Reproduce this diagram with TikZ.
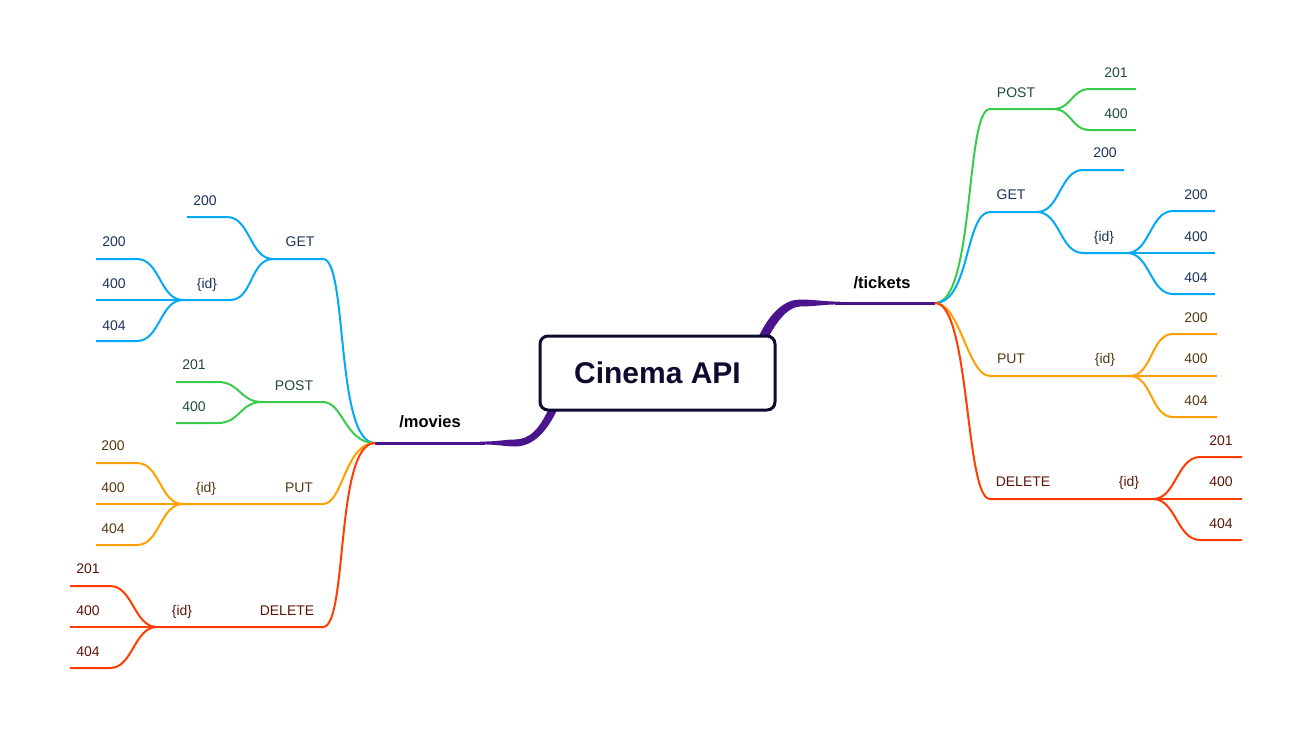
\documentclass[tikz,border=0pt]{standalone}
\usepackage{fontspec}
\setmainfont{Liberation Sans}
\definecolor{cBlue}{HTML}{03A9F4}
\definecolor{cGreen}{HTML}{39CB4C}
\definecolor{cOrange}{HTML}{FFA000}
\definecolor{cRed}{HTML}{FF3D00}
\definecolor{cPurple}{HTML}{4A148C}
\definecolor{cNavy}{HTML}{0D0B30}
\definecolor{tBlue}{HTML}{1B3358}
\definecolor{tGreen}{HTML}{1F4B3B}
\definecolor{tOrange}{HTML}{553A10}
\definecolor{tRed}{HTML}{5C1408}
\begin{document}
\begin{tikzpicture}[x=1pt,y=-1pt,
  branch/.style={line width=2pt},
  lbl/.style={font=\fontsize{14}{16}\selectfont, inner sep=0pt, anchor=base},
  topic/.style={font=\fontsize{16.5}{18}\selectfont\bfseries, inner sep=0pt, anchor=base, text=black},
  root/.style={draw=cNavy, line width=3pt, fill=white, rounded corners=8pt,
    minimum width=235pt, minimum height=74pt, inner sep=0pt,
    font=\fontsize{30}{32}\selectfont\bfseries, text=cNavy},
  hub/.style={.. controls +(#1,0) and +(-#1,0) ..}
]
\useasboundingbox (0,0) rectangle (1298,755);

% ---------- hubs ----------
\coordinate (mv) at (375,443);
\coordinate (tk) at (935,303);

% ---------- trunk lines to the root ----------
\coordinate (mvT) at (485,443);
\coordinate (tkT) at (835,303);
\draw[cPurple, line width=3pt] (mv) -- (mvT);
\draw[cPurple, line width=3pt] (tk) -- (tkT);
\fill[cPurple] (480,441.6) .. controls (498,441.6) and (505,439.5) .. (515,439.5)
  .. controls (530,439.5) and (540,428) .. (549,408) -- (558,408)
  .. controls (547,432) and (533,446.5) .. (515,446.5)
  .. controls (505,446.5) and (498,444.4) .. (480,444.4) -- cycle;
\fill[cPurple] (840,301.6) .. controls (822,301.6) and (815,299.5) .. (800,299.5)
  .. controls (785,299.5) and (770,312) .. (758,338) -- (767,340)
  .. controls (778,318) and (790,306.5) .. (800,306.5)
  .. controls (815,306.5) and (822,304.4) .. (840,304.4) -- cycle;

\node[root] (api) at (657.5,373) {Cinema API};
\node[topic] (movies) at (430,427) {/movies};
\node[topic] (tickets) at (882,288) {/tickets};

% ================= /movies =================
% GET
\coordinate (mGa) at (323,259); \coordinate (mGj) at (273,259);
\coordinate (mG2a) at (227,217); \coordinate (mG2b) at (187,217);
\coordinate (mGia) at (230,300); \coordinate (mGij) at (183,300);
\coordinate (mGi2a) at (137,259); \coordinate (mGi2b) at (96,259);
\coordinate (mGi4b) at (96,300);
\coordinate (mGi5a) at (137,341); \coordinate (mGi5b) at (96,341);
\begin{scope}[cBlue, branch]
\draw (mv) .. controls +(-40,0) and +(25,0) .. (mGa) -- (mGj);
\draw (mGj) .. controls +(-23,0) and +(23,0) .. (mG2a) -- (mG2b);
\draw (mGj) .. controls +(-23,0) and +(23,0) .. (mGia) -- (mGij);
\draw (mGij) .. controls +(-23,0) and +(23,0) .. (mGi2a) -- (mGi2b);
\draw (mGij) -- (mGi4b);
\draw (mGij) .. controls +(-23,0) and +(23,0) .. (mGi5a) -- (mGi5b);
\end{scope}
\begin{scope}[text=tBlue]
\node[lbl] (mGet) at (300,246) {GET};
\node[lbl] (mGet200) at (205,205) {200};
\node[lbl] (mGetId) at (207,288) {\{id\}};
\node[lbl] (mGetId200) at (114,246) {200};
\node[lbl] (mGetId400) at (114,288) {400};
\node[lbl] (mGetId404) at (114,330) {404};
\end{scope}

% POST
\coordinate (mPa) at (323,402); \coordinate (mPj) at (262,402);
\coordinate (mP1a) at (218,382); \coordinate (mP1b) at (176,382);
\coordinate (mP4a) at (218,423); \coordinate (mP4b) at (176,423);
\begin{scope}[cGreen, branch]
\draw (mv) .. controls +(-30,0) and +(20,0) .. (mPa) -- (mPj);
\draw (mPj) .. controls +(-22,0) and +(22,0) .. (mP1a) -- (mP1b);
\draw (mPj) .. controls +(-22,0) and +(22,0) .. (mP4a) -- (mP4b);
\end{scope}
\begin{scope}[text=tGreen]
\node[lbl] (mPost) at (294,390) {POST};
\node[lbl] (mPost201) at (194,369) {201};
\node[lbl] (mPost400) at (194,411) {400};
\end{scope}

% PUT
\coordinate (mUa) at (323,504); \coordinate (mUj) at (183,504);
\coordinate (mU2a) at (137,463); \coordinate (mU2b) at (96,463);
\coordinate (mU4b) at (96,504);
\coordinate (mU5a) at (137,545); \coordinate (mU5b) at (96,545);
\begin{scope}[cOrange, branch]
\draw (mv) .. controls +(-30,0) and +(20,0) .. (mUa) -- (mUj);
\draw (mUj) .. controls +(-23,0) and +(23,0) .. (mU2a) -- (mU2b);
\draw (mUj) -- (mU4b);
\draw (mUj) .. controls +(-23,0) and +(23,0) .. (mU5a) -- (mU5b);
\end{scope}
\begin{scope}[text=tOrange]
\node[lbl] (mPut) at (299,492) {PUT};
\node[lbl] (mPutId) at (206,492) {\{id\}};
\node[lbl] (mPut200) at (113,450) {200};
\node[lbl] (mPut400) at (113,492) {400};
\node[lbl] (mPut404) at (113,533) {404};
\end{scope}

% DELETE
\coordinate (mDa) at (323,627); \coordinate (mDj) at (157,627);
\coordinate (mD1a) at (110,586); \coordinate (mD1b) at (70,586);
\coordinate (mD4b) at (70,627);
\coordinate (mD5a) at (110,668); \coordinate (mD5b) at (70,668);
\begin{scope}[cRed, branch]
\draw (mv) .. controls +(-40,0) and +(25,0) .. (mDa) -- (mDj);
\draw (mDj) .. controls +(-23,0) and +(23,0) .. (mD1a) -- (mD1b);
\draw (mDj) -- (mD4b);
\draw (mDj) .. controls +(-23,0) and +(23,0) .. (mD5a) -- (mD5b);
\end{scope}
\begin{scope}[text=tRed]
\node[lbl] (mDel) at (287,615) {DELETE};
\node[lbl] (mDelId) at (182,615) {\{id\}};
\node[lbl] (mDel201) at (88,573) {201};
\node[lbl] (mDel400) at (88,615) {400};
\node[lbl] (mDel404) at (88,656) {404};
\end{scope}

% ================= /tickets =================
% POST
\coordinate (tPa) at (990,109); \coordinate (tPj) at (1053,109);
\coordinate (tP1a) at (1090,89); \coordinate (tP1b) at (1136,89);
\coordinate (tP4a) at (1090,130); \coordinate (tP4b) at (1136,130);
\begin{scope}[cGreen, branch]
\draw (tk) .. controls +(40,0) and +(-25,0) .. (tPa) -- (tPj);
\draw (tPj) .. controls +(19,0) and +(-19,0) .. (tP1a) -- (tP1b);
\draw (tPj) .. controls +(19,0) and +(-19,0) .. (tP4a) -- (tP4b);
\end{scope}
\begin{scope}[text=tGreen]
\node[lbl] (tPost) at (1016,97) {POST};
\node[lbl] (tPost201) at (1116,77) {201};
\node[lbl] (tPost400) at (1116,118) {400};
\end{scope}

% GET
\coordinate (tGa) at (990,212); \coordinate (tGj) at (1037,212);
\coordinate (tG2a) at (1083,170); \coordinate (tG2b) at (1124,170);
\coordinate (tGia) at (1083,253); \coordinate (tGij) at (1127,253);
\coordinate (tGi2a) at (1173,211); \coordinate (tGi2b) at (1215,211);
\coordinate (tGi4b) at (1215,253);
\coordinate (tGi5a) at (1173,294); \coordinate (tGi5b) at (1215,294);
\begin{scope}[cBlue, branch]
\draw (tk) .. controls +(35,0) and +(-25,0) .. (tGa) -- (tGj);
\draw (tGj) .. controls +(23,0) and +(-23,0) .. (tG2a) -- (tG2b);
\draw (tGj) .. controls +(23,0) and +(-23,0) .. (tGia) -- (tGij);
\draw (tGij) .. controls +(23,0) and +(-23,0) .. (tGi2a) -- (tGi2b);
\draw (tGij) -- (tGi4b);
\draw (tGij) .. controls +(23,0) and +(-23,0) .. (tGi5a) -- (tGi5b);
\end{scope}
\begin{scope}[text=tBlue]
\node[lbl] (tGet) at (1011,199) {GET};
\node[lbl] (tGet200) at (1105,157) {200};
\node[lbl] (tGetId) at (1104,241) {\{id\}};
\node[lbl] (tGetId200) at (1196,199) {200};
\node[lbl] (tGetId400) at (1196,241) {400};
\node[lbl] (tGetId404) at (1196,282) {404};
\end{scope}

% PUT
\coordinate (tUa) at (990,376); \coordinate (tUj) at (1130,376);
\coordinate (tU2a) at (1173,334); \coordinate (tU2b) at (1217,334);
\coordinate (tU4b) at (1217,376);
\coordinate (tU5a) at (1173,417); \coordinate (tU5b) at (1217,417);
\begin{scope}[cOrange, branch]
\draw (tk) .. controls +(25,0) and +(-22,0) .. (tUa) -- (tUj);
\draw (tUj) .. controls +(22,0) and +(-22,0) .. (tU2a) -- (tU2b);
\draw (tUj) -- (tU4b);
\draw (tUj) .. controls +(22,0) and +(-22,0) .. (tU5a) -- (tU5b);
\end{scope}
\begin{scope}[text=tOrange]
\node[lbl] (tPut) at (1011,363) {PUT};
\node[lbl] (tPutId) at (1105,363) {\{id\}};
\node[lbl] (tPut200) at (1196,322) {200};
\node[lbl] (tPut400) at (1196,363) {400};
\node[lbl] (tPut404) at (1196,405) {404};
\end{scope}

% DELETE
\coordinate (tDa) at (990,499); \coordinate (tDj) at (1153,499);
\coordinate (tD1a) at (1200,457); \coordinate (tD1b) at (1242,457);
\coordinate (tD4b) at (1242,499);
\coordinate (tD5a) at (1200,540); \coordinate (tD5b) at (1242,540);
\begin{scope}[cRed, branch]
\draw (tk) .. controls +(35,0) and +(-25,0) .. (tDa) -- (tDj);
\draw (tDj) .. controls +(23,0) and +(-23,0) .. (tD1a) -- (tD1b);
\draw (tDj) -- (tD4b);
\draw (tDj) .. controls +(23,0) and +(-23,0) .. (tD5a) -- (tD5b);
\end{scope}
\begin{scope}[text=tRed]
\node[lbl] (tDel) at (1023,486) {DELETE};
\node[lbl] (tDelId) at (1129,486) {\{id\}};
\node[lbl] (tDel201) at (1221,445) {201};
\node[lbl] (tDel400) at (1221,486) {400};
\node[lbl] (tDel404) at (1221,528) {404};
\end{scope}
\end{tikzpicture}
\end{document}
